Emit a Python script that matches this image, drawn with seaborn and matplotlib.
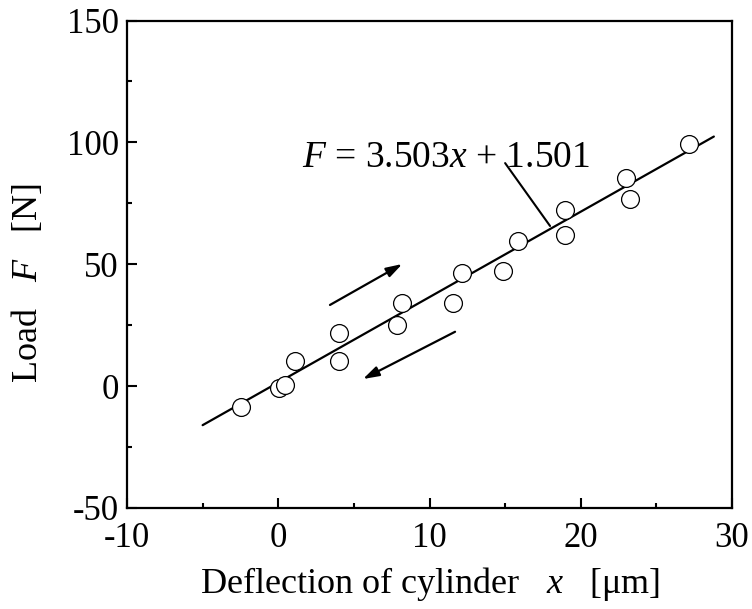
import numpy as np
import pandas as pd
import matplotlib
matplotlib.use("Agg")
import matplotlib.pyplot as plt
import seaborn as sns
from matplotlib.ticker import MultipleLocator

# ---- data ----
deflection = [-2.47, 0.08, 0.43, 1.11, 4.04, 4.04, 7.82, 8.15, 11.53, 12.16,
              14.83, 15.84, 18.97, 18.97, 22.98, 23.28, 27.14]
load = [-8.7, -0.9, 0.3, 10.4, 21.7, 10.4, 25.2, 33.9, 34.3, 46.3,
        47.2, 59.4, 72.3, 62.2, 85.3, 76.8, 99.4]
fit_slope = 3.503
fit_intercept = 1.501
fit_x = [-5.0, 28.8]

sns.set_theme(style="white")
plt.rcParams["font.family"] = ["Liberation Serif", "DejaVu Serif"]
plt.rcParams["mathtext.fontset"] = "custom"
plt.rcParams["mathtext.rm"] = "Liberation Serif"
plt.rcParams["mathtext.it"] = "Liberation Serif:italic"
plt.rcParams["axes.unicode_minus"] = False

fig = plt.figure(figsize=(7.52, 6.09), dpi=100)
ax = fig.add_axes([127/752, 1-508/609, 605/752, 487.5/609])

fit_df = pd.DataFrame({"x": fit_x,
                       "y": [fit_slope * v + fit_intercept for v in fit_x]})
sns.lineplot(data=fit_df, x="x", y="y", ax=ax, color="black", linewidth=1.6)

pts = pd.DataFrame({"x": deflection, "y": load})
sns.scatterplot(data=pts, x="x", y="y", ax=ax, s=165, marker="o",
                facecolor="white", edgecolor="black", linewidth=0.9, zorder=3)

ax.set_xlim(-10, 30)
ax.set_ylim(-50, 150)
ax.xaxis.set_major_locator(MultipleLocator(10))
ax.xaxis.set_minor_locator(MultipleLocator(5))
ax.yaxis.set_major_locator(MultipleLocator(50))
ax.yaxis.set_minor_locator(MultipleLocator(25))
ax.tick_params(which="both", direction="in", top=False, right=False,
               bottom=True, left=True, labelsize=25, width=1.5, color="black",
               labelcolor="black")
ax.tick_params(which="major", length=7.5)
ax.tick_params(axis="x", which="major", pad=10)
ax.tick_params(axis="y", which="major", pad=6)
ax.tick_params(which="minor", length=3.8)
for s in ax.spines.values():
    s.set_linewidth(1.6)
    s.set_color("black")

ax.set_xlabel("Deflection of cylinder   $x$   [μm]", fontsize=26, labelpad=7,
              color="black")
ax.set_ylabel("Load   $F$   [N]", fontsize=26, color="black")
ax.yaxis.set_label_coords(-0.135, 0.4615)

ax.text(1.6, 93.6, "$F$ = 3.503$x$ + 1.501", fontsize=27, va="center",
        ha="left", color="black")
ax.plot([15.0, 17.97], [91.5, 65.7], color="black", linewidth=1.5)

ax.annotate("", xy=(8.2, 50.1), xytext=(3.42, 33.3),
            arrowprops=dict(arrowstyle="-|>,head_length=0.8,head_width=0.25",
                            color="black", lw=1.6, shrinkA=0, shrinkB=0))
ax.annotate("", xy=(5.6, 2.9), xytext=(11.69, 22.3),
            arrowprops=dict(arrowstyle="-|>,head_length=0.8,head_width=0.25",
                            color="black", lw=1.6, shrinkA=0, shrinkB=0))

fig.savefig("out.png", dpi=100)
